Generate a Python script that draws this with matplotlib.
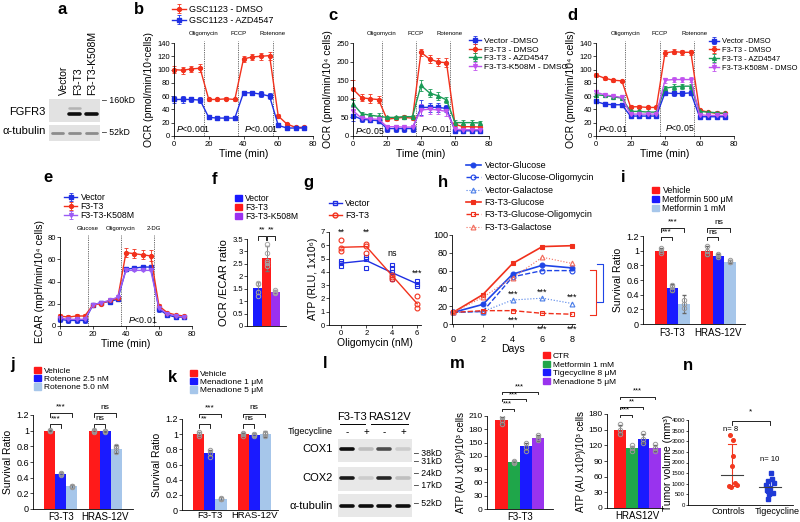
import matplotlib
matplotlib.use('Agg')
import matplotlib.pyplot as plt
from matplotlib.patches import Patch
from matplotlib.lines import Line2D
import numpy as np

plt.rcParams['font.family'] = ['Liberation Sans', 'DejaVu Sans']
plt.rcParams['mathtext.fontset'] = 'custom'
plt.rcParams['mathtext.rm'] = 'Liberation Sans'
plt.rcParams['mathtext.it'] = 'Liberation Sans:italic'
plt.rcParams['axes.linewidth'] = 0.6
plt.rcParams['xtick.major.width'] = 0.5
plt.rcParams['ytick.major.width'] = 0.5
plt.rcParams['xtick.major.size'] = 2
plt.rcParams['ytick.major.size'] = 2
plt.rcParams['xtick.major.pad'] = 1.5
plt.rcParams['ytick.major.pad'] = 1
plt.rcParams['xtick.labelsize'] = 5.5
plt.rcParams['ytick.labelsize'] = 5.5
plt.rcParams['axes.labelpad'] = 2

# ---------------- data ----------------
t_min = [0, 5, 10, 15, 20, 25, 30, 35, 40, 45, 50, 55, 60, 65, 70, 75]
inject_t = [17, 37, 57]

# b
b_dmso = [100, 99, 101, 102, 55, 55, 56, 55, 116, 119, 120, 121, 30, 18, 13, 13]
b_dmso_err = [5, 5, 4, 6, 2, 2, 2, 2, 4, 5, 5, 6, 3, 2, 2, 2]
b_azd = [55, 55, 55, 54, 28, 27, 27, 27, 65, 65, 63, 60, 16, 12, 12, 12]
b_azd_err = [5, 5, 4, 5, 3, 2, 2, 2, 3, 3, 4, 5, 3, 2, 2, 2]

# c
c_vec = [55, 45, 43, 41, 20, 20, 20, 20, 77, 77, 77, 74, 14, 14, 14, 14]
c_vec_err = [15, 8, 6, 6, 10, 10, 8, 8, 20, 12, 12, 10, 5, 5, 5, 5]
c_f3 = [126, 103, 100, 98, 45, 48, 50, 48, 225, 207, 199, 197, 31, 25, 25, 24]
c_f3_err = [25, 10, 12, 10, 5, 4, 5, 5, 10, 10, 12, 12, 6, 6, 6, 6]
c_azd = [87, 60, 56, 53, 50, 50, 52, 52, 136, 116, 108, 97, 36, 36, 36, 35]
c_azd_err = [10, 5, 5, 8, 4, 4, 4, 4, 15, 10, 10, 8, 8, 8, 8, 6]
c_k508 = [68, 48, 46, 45, 25, 25, 24, 24, 70, 72, 70, 66, 18, 17, 17, 17]
c_k508_err = [10, 6, 6, 6, 5, 5, 5, 5, 15, 12, 12, 12, 5, 5, 5, 5]

# d
d_vec = [52, 48, 47, 47, 30, 30, 30, 30, 65, 64, 64, 65, 29, 29, 29, 29]
d_f3 = [92, 87, 84, 83, 44, 44, 43, 43, 125, 127, 126, 126, 39, 36, 34, 34]
d_azd = [62, 61, 59, 57, 37, 37, 36, 36, 72, 74, 75, 75, 37, 36, 35, 34]
d_k508 = [66, 62, 60, 58, 33, 33, 33, 33, 84, 85, 85, 85, 32, 31, 31, 31]
d_err = [3, 2, 2, 2, 2, 2, 2, 2, 4, 4, 4, 4, 2, 2, 2, 2]

# e
e_vec = [6, 5, 5, 5, 19, 21, 22, 24, 51, 52, 53, 53, 15, 10, 8, 8]
e_f3 = [9, 8, 9, 9, 19, 20, 23, 25, 66, 65, 64, 63, 18, 12, 10, 9]
e_k508 = [7, 6, 6, 6, 19, 21, 23, 26, 50, 50, 50, 50, 16, 11, 9, 8]
e_f3_err = [2, 2, 2, 2, 1, 1, 1, 1, 4, 4, 4, 5, 2, 1, 1, 1]
e_err = [2, 2, 2, 2, 1, 1, 1, 1, 1, 1, 1, 1, 2, 1, 1, 1]

# f
f_labels = ['Vector', 'F3-T3', 'F3-T3-K508M']
f_mean = [1.52, 2.72, 1.37]
f_err = [0.25, 0.5, 0.08]
f_pts = [[1.2, 1.35, 1.7, 1.75], [2.4, 2.55, 2.6, 2.95, 3.3], [1.33, 1.38, 1.45]]

# g
g_dose = [0, 2, 4, 6]
g_vec = [4.65, 4.85, 3.95, 3.1]
g_f3 = [5.85, 5.9, 3.75, 1.6]
g_vec_pts = [[4.45, 4.7, 4.8], [4.3, 5.0, 5.1], [3.5, 4.0, 4.3, 4.5], [2.9, 3.1, 3.3]]
g_f3_pts = [[5.6, 5.8, 6.4], [5.4, 5.95, 6.1], [3.5, 3.6, 3.8], [1.3, 1.6, 2.2]]
g_marks = ['**', '**', 'ns', '***']
g_mark_y = [7.0, 7.0, 5.4, 3.9]

# h
h_days = [0, 2, 4, 6, 8]
h_vec_glc = [13, 22, 56, 66, 63]
h_vec_glc_oligo = [13, 14, 53, 60, 60]
h_vec_gal = [13, 14, 27, 29, 23]
h_f3_glc = [13, 33, 68, 87, 88]
h_f3_glc_oligo = [13, 15, 15, 12, 11]
h_f3_gal = [13, 30, 52, 75, 68]

# i, j, k
cell_groups = ['F3-T3', 'HRAS-12V']
i_labels = ['Vehicle', 'Metformin 500 \u03bcM', 'Metformin 1 mM']
i_mean = [[1.0, 0.49, 0.27], [1.0, 0.93, 0.85]]
i_err = [[0.03, 0.05, 0.12], [0.07, 0.03, 0.02]]
i_pts = [[[0.97, 1.0, 1.03], [0.47, 0.5, 0.53], [0.22, 0.27, 0.33]],
         [[0.95, 1.0, 1.06], [0.92, 0.94, 0.95], [0.84, 0.85, 0.87]]]
j_labels = ['Vehicle', 'Rotenone 2.5 nM', 'Rotenone 5.0 nM']
j_mean = [[1.0, 0.45, 0.29], [1.0, 0.99, 0.77]]
j_err = [[0.01, 0.02, 0.02], [0.02, 0.01, 0.05]]
j_pts = [[[1.0, 1.0, 1.01], [0.44, 0.45, 0.46], [0.28, 0.29, 0.3]],
         [[0.98, 1.0, 1.01], [0.98, 0.99, 1.0], [0.73, 0.78, 0.81]]]
k_labels = ['Vehicle', 'Menadione 1 \u03bcM', 'Menadione 5 \u03bcM']
k_mean = [[1.0, 0.75, 0.15], [1.0, 0.99, 1.0]]
k_err = [[0.03, 0.04, 0.02], [0.02, 0.03, 0.04]]
k_pts = [[[0.98, 1.0, 1.03], [0.7, 0.75, 0.79], [0.14, 0.15, 0.16]],
         [[0.98, 1.0, 1.01], [0.97, 0.99, 1.0], [0.98, 1.0, 1.02]]]

# m
m_labels = ['CTR', 'Metformin 1 mM', 'Tigecycline 8 \u03bcM', 'Menadione 5 \u03bcM']
m_f3 = [200, 106, 142, 160]
m_f3_err = [8, 3, 8, 6]
m_f3_pts = [[192, 200, 208], [104, 106, 108], [132, 140, 150], [155, 160, 166]]
m_ras = [150, 115, 133, 115]
m_ras_err = [8, 4, 8, 5]
m_ras_pts = [[142, 150, 160], [110, 115, 120], [125, 133, 143], [110, 115, 122]]

# n
n_groups = ['Controls', 'Tigecycline']
n_ctrl = [3300, 3050, 2300, 1850, 1050, 920, 880, 850]
n_tig = [1500, 1230, 1150, 1030, 920, 800, 690, 570, 540, 280]
n_center = [1430, 850]
n_lo = [900, 570]
n_hi = [2880, 1200]

# blots
a_lanes = ['Vector', 'F3-T3', 'F3-T3-K508M']
a_fgfr3 = [0, 0.95, 0.95]
a_fgfr3_upper = [0, 0.3, 0]
a_tub = [0.45, 0.45, 0.45]
l_cox1 = [0.95, 0.25, 0.7, 0.2]
l_cox2 = [0.9, 0.2, 0.85, 0.25]
l_tub = [0.95, 0.95, 0.95, 0.95]
l_treat = ['-', '+', '-', '+']

RED = '#f2311c'
BLUE = '#1f2fe3'
GREEN = '#1a9b56'
PURPLE = '#c153ef'
BAR_RED = '#ff1a1a'
BAR_BLUE = '#1a1aff'
BAR_LB = '#a6c6ea'

W, H = 800, 522
fig = plt.figure(figsize=(W / 100, H / 100), dpi=100)


def px_axes(x0, y0, x1, y1):
    return fig.add_axes([x0 / W, 1 - y1 / H, (x1 - x0) / W, (y1 - y0) / H])


def ftext(x, y, s, **kw):
    fig.text(x / W, 1 - y / H, s, **kw)


def fline(x0, x1, y):
    fig.add_artist(Line2D([x0 / W, x1 / W], [1 - y / H] * 2, transform=fig.transFigure, lw=0.7, color='k'))


def clean(ax):
    ax.spines['top'].set_visible(False)
    ax.spines['right'].set_visible(False)


def legend_px(ax, handles, labels, x, y, fs, spacing, hl=1.6, **kw):
    ax.legend(handles, labels, loc='upper left', bbox_to_anchor=(x / W, 1 - y / H),
              bbox_transform=fig.transFigure, frameon=False, fontsize=fs, borderpad=0,
              borderaxespad=0, labelspacing=spacing, handlelength=hl, handletextpad=0.4, **kw)


def bracket(ax, x0, x1, y, tick, label, ty, fs=6):
    ax.plot([x0, x0, x1, x1], [y - tick, y, y, y - tick], color='k', lw=0.6, clip_on=False)
    ax.text((x0 + x1) / 2, ty, label, ha='center', va='center', fontsize=fs, clip_on=False)


def seahorse(ax, series, ymax, ystep, names, ylabel, ptexts):
    handles = []
    for vals, errs, color, marker in series:
        h = ax.errorbar(t_min, vals, yerr=errs, color=color, marker=marker, ms=2.8, lw=1,
                        elinewidth=0.6, capsize=1.3, capthick=0.6, clip_on=False)
        handles.append(h)
    for tx, name in zip(inject_t, names):
        ax.axvline(tx, ymax=1.02, color='0.35', ls=(0, (1.5, 1.2)), lw=0.6, clip_on=False)
        ax.text(tx, 1.1, name, fontsize=4.3, ha='center', va='center', transform=ax.get_xaxis_transform())
    for tx, ty, s in ptexts:
        ax.text(tx, ty, s, fontsize=6.3, ha='left', va='center')
    ax.set_xlim(0, 80)
    ax.set_ylim(0, ymax)
    ax.set_xticks([0, 20, 40, 60, 80])
    ax.set_yticks(np.arange(0, ymax + 1, ystep))
    ax.set_xlabel('Time (min)', fontsize=7.5, labelpad=1)
    ax.set_ylabel(ylabel, fontsize=7.5)
    clean(ax)
    return handles


def grouped(ax, means, errs, pts, colors, width, spacing=1.0):
    for g, (gm, ge, gp) in enumerate(zip(means, errs, pts)):
        n = len(gm)
        for b, (m, e, p) in enumerate(zip(gm, ge, gp)):
            x = g * spacing + (b - (n - 1) / 2) * width
            ax.bar(x, m, width=width, color=colors[b], zorder=1)
            ax.errorbar(x, m, yerr=e, fmt='none', ecolor='0.4', elinewidth=0.6, capsize=1.4, zorder=2)
            ax.plot([x] * len(p), p, 'o', mfc='none', mec='0.6', ms=3.2, mew=0.7, zorder=3, clip_on=False)


def bar_pos(g, b, n, width):
    return g + (b - (n - 1) / 2) * width


def blot(x0, y0, x1, y1, values, band_y, lw, bg='#e2e2e2'):
    ax = px_axes(x0, y0, x1, y1)
    ax.set_facecolor(bg)
    ax.set_xlim(-0.5, len(values) - 0.5)
    ax.set_ylim(0, 1)
    for i, v in enumerate(values):
        if v > 0:
            ax.plot([i - 0.32, i + 0.32], [band_y, band_y], color=str(1 - v), lw=lw, solid_capstyle='round')
    ax.set_xticks([])
    ax.set_yticks([])
    for s in ax.spines.values():
        s.set_visible(False)
    return ax


# ---------------- a ----------------
ax = blot(49, 99, 100, 122, a_fgfr3, 0.35, 2.6)
for i, v in enumerate(a_fgfr3_upper):
    if v > 0:
        ax.plot([i - 0.3, i + 0.3], [0.62, 0.62], color=str(1 - v), lw=1.8, solid_capstyle='round')
blot(49, 125, 100, 141, a_tub, 0.5, 2.0)
for xl, lab in zip([64, 78, 92], a_lanes):
    ftext(xl, 95, lab, rotation=90, ha='center', va='bottom', fontsize=7.5)
ftext(46, 112, 'FGFR3', ha='right', va='center', fontsize=8)
ftext(46, 131, '\u03b1-tubulin', ha='right', va='center', fontsize=8)
ftext(102, 100, '\u2013 160kD', ha='left', va='center', fontsize=6.3)
ftext(102, 133, '\u2013 52kD', ha='left', va='center', fontsize=6.3)

# ---------------- b ----------------
ax = px_axes(174, 43, 313, 136)
hs = seahorse(ax, [(b_dmso, b_dmso_err, RED, 'o'), (b_azd, b_azd_err, BLUE, 's')], 140, 20,
              ['Oligomycin', 'FCCP', 'Rotenone'], 'OCR (pmol/min/10\u2074cells)',
              [(1, 10, '$\\it{P}$<0.001'), (40, 10, '$\\it{P}$<0.001')])
legend_px(ax, hs, ['GSC1123 - DMSO', 'GSC1123 - AZD4547'], 172, 5, 6.5, 0.2, hl=1.5)

# ---------------- c ----------------
ax = px_axes(353, 43, 489, 136)
hs = seahorse(ax, [(c_vec, c_vec_err, BLUE, 's'), (c_f3, c_f3_err, RED, 'o'),
                   (c_azd, c_azd_err, GREEN, '^'), (c_k508, c_k508_err, PURPLE, 'v')], 250, 50,
              ['Oligomycin', 'FCCP', 'Rotenone'], 'OCR (pmol/min/10\u2074 cells)',
              [(1, 14, '$\\it{P}$<0.05'), (40, 18, '$\\it{P}$<0.01')])
legend_px(ax, hs, ['Vector -DMSO', 'F3-T3 - DMSO', 'F3-T3 - AZD4547', 'F3-T3-K508M - DMSO'],
          469, 37, 6, 0.1, hl=1.4)

# ---------------- d ----------------
ax = px_axes(596, 43, 734, 136)
hs = seahorse(ax, [(d_vec, d_err, BLUE, 's'), (d_f3, d_err, RED, 'o'),
                   (d_azd, d_err, GREEN, '^'), (d_k508, d_err, PURPLE, 'v')], 140, 20,
              ['Oligomycin', 'FCCP', 'Rotenone'], 'OCR (pmol/min/10\u2074 cells)',
              [(1, 10, '$\\it{P}$<0.01'), (40, 12, '$\\it{P}$<0.05')])
legend_px(ax, hs, ['Vector -DMSO', 'F3-T3 - DMSO', 'F3-T3 - AZD4547', 'F3-T3-K508M - DMSO'],
          709, 38, 5.4, 0.2, hl=1.3)

# ---------------- e ----------------
ax = px_axes(60, 237, 192, 326)
hs = seahorse(ax, [(e_vec, e_err, BLUE, 's'), (e_f3, e_f3_err, RED, 'o'), (e_k508, e_err, '#9b5cf5', 'v')],
              80, 20, ['Glucose', 'Oligomycin', '2-DG'], 'ECAR (mpH/min/10\u2074 cells)',
              [(41, 5, '$\\it{P}$<0.01')])
legend_px(ax, hs, ['Vector', 'F3-T3', 'F3-T3-K508M'], 64, 193, 6.3, 0.0, hl=1.5)

# ---------------- f ----------------
ax = px_axes(247, 239, 286, 326)
f_colors = [BAR_BLUE, BAR_RED, '#9b30f0']
for i, (m, e, p) in enumerate(zip(f_mean, f_err, f_pts)):
    ax.bar(i, m, width=1.0, color=f_colors[i])
    ax.errorbar(i, m, yerr=e, fmt='none', ecolor='0.45', elinewidth=0.6, capsize=1.4)
    ax.plot([i] * len(p), p, 'o', mfc='none', mec='0.65', ms=3.2, mew=0.7)
ax.set_xlim(-1.17, 3.17)
ax.set_ylim(0, 3.5)
ax.set_yticks(np.arange(0, 3.51, 0.5))
ax.set_yticklabels(['0', '0.5', '1', '1.5', '2', '2.5', '3', '3.5'])
ax.set_xticks([])
ax.set_ylabel('OCR /ECAR ratio', fontsize=8)
clean(ax)
bracket(ax, 0, 0.95, 3.62, 0.15, '**', 3.85)
bracket(ax, 1.05, 2, 3.62, 0.15, '**', 3.85)
legend_px(ax, [Patch(color=c) for c in f_colors], f_labels, 235, 194, 6.2, 0.0, hl=0.8, handleheight=0.8)

# ---------------- g ----------------
ax = px_axes(329, 232, 421, 325)
ax.plot(g_dose, g_vec, color=BLUE, lw=1)
ax.plot(g_dose, g_f3, color=RED, lw=1)
for d, pv, pf in zip(g_dose, g_vec_pts, g_f3_pts):
    ax.plot([d] * len(pv), pv, 's', mfc='none', mec=BLUE, ms=3.5, mew=0.8)
    ax.plot([d] * len(pf), pf, 'o', mfc='none', mec=RED, ms=3.5, mew=0.8)
for d, s, y in zip(g_dose, g_marks, g_mark_y):
    ax.text(d, y, s, ha='center', va='center', fontsize=6.5, clip_on=False)
ax.set_xlim(-0.94, 6.3)
ax.set_ylim(0, 7)
ax.set_xticks(g_dose)
ax.set_yticks(range(0, 8))
ax.set_xlabel('Oligomycin (nM)', fontsize=7.5, labelpad=1)
ax.set_ylabel('ATP (RLU, 1x10\u2076)', fontsize=7.5)
clean(ax)
g_handles = [Line2D([], [], color=BLUE, marker='s', mfc='none', ms=3.5, lw=1),
             Line2D([], [], color=RED, marker='o', mfc='none', ms=3.5, lw=1)]
legend_px(ax, g_handles, ['Vector', 'F3-T3'], 329, 199, 6.5, 0.3, hl=1.4)

# ---------------- h ----------------
ax = px_axes(452, 235, 575, 324)
HB = '#1f45e6'
HR = '#f0301c'
h_series = [
    (h_vec_glc, HB, 'o', 'full', '-', 1.2, 'Vector-Glucose'),
    (h_vec_glc_oligo, HB, 'o', 'none', '--', 1.0, 'Vector-Glucose-Oligomycin'),
    (h_vec_gal, '#4a7de8', '^', 'none', ':', 0.8, 'Vector-Galactose'),
    (h_f3_glc, HR, 's', 'full', '-', 1.2, 'F3-T3-Glucose'),
    (h_f3_glc_oligo, HR, 's', 'none', '--', 1.0, 'F3-T3-Glucose-Oligomycin'),
    (h_f3_gal, '#f26a5a', '^', 'none', ':', 0.8, 'F3-T3-Galactose'),
]
hh = []
for vals, c, mk, fill, ls, lw, lab in h_series:
    mfc = c if fill == 'full' else 'none'
    line, = ax.plot(h_days, vals, color=c, marker=mk, mfc=mfc, ms=3.5, mew=0.8, ls=ls, lw=lw, clip_on=False)
    hh.append(line)
for d, v in zip(h_days[2:], h_vec_gal[2:]):
    ax.text(d, v + 7, '***', ha='center', va='center', fontsize=6.5)
for d, y in zip(h_days[2:], [4, -6, -6]):
    ax.text(d, y, '***', ha='center', va='center', fontsize=6.5, clip_on=False)
ax.plot([9.7, 10.1, 10.1, 9.7], [67, 67, 25, 25], color=HB, lw=0.8, clip_on=False)
ax.plot([9.2, 9.6, 9.6, 9.2], [61, 61, 10, 10], color=HR, lw=0.8, clip_on=False)
ax.set_xlim(-0.07, 8.19)
ax.set_ylim(0, 100)
ax.set_xticks(h_days)
ax.set_yticks(range(0, 101, 20))
ax.tick_params(labelsize=6.5)
ax.tick_params(axis='x', pad=6)
ax.set_xlabel('Days', fontsize=7.5, labelpad=0)
clean(ax)
legend_px(ax, hh, [s[-1] for s in h_series], 466, 161, 6.5, 0.37, hl=1.65)

# ---------------- i ----------------
ax = px_axes(643, 236, 745, 324)
i_colors = [BAR_RED, BAR_BLUE, BAR_LB]
grouped(ax, i_mean, i_err, i_pts, i_colors, 0.25)
ax.set_xlim(-0.64, 1.58)
ax.set_ylim(0, 1.2)
ax.set_yticks(np.arange(0, 1.21, 0.2))
ax.set_yticklabels(['0', '0.2', '0.4', '0.6', '0.8', '1', '1.2'])
ax.set_xticks([0, 1])
ax.set_xticklabels(cell_groups, fontsize=7)
ax.tick_params(axis='x', length=0, labelsize=7, pad=3)
ax.tick_params(axis='y', labelsize=6.5)
ax.set_ylabel('Survival Ratio', fontsize=7.5)
clean(ax)
for g, marks in enumerate([('***', '***'), ('ns', 'ns')]):
    bracket(ax, bar_pos(g, 0, 3, 0.25), bar_pos(g, 2, 3, 0.25), 1.31, 0.05, marks[0], 1.39)
    bracket(ax, bar_pos(g, 0, 3, 0.25), bar_pos(g, 1, 3, 0.25), 1.19, 0.05, marks[1], 1.25)
legend_px(ax, [Patch(color=c) for c in i_colors], i_labels, 652, 186, 6.3, 0.0, hl=0.8, handleheight=0.8)

# ---------------- j ----------------
ax = px_axes(33, 415, 133, 509)
grouped(ax, j_mean, j_err, j_pts, i_colors, 0.25)
ax.set_xlim(-0.636, 1.636)
ax.set_ylim(0, 1.2)
ax.set_yticks(np.arange(0, 1.21, 0.2))
ax.set_yticklabels(['0', '0.2', '0.4', '0.6', '0.8', '1', '1.2'])
ax.set_xticks([0, 1])
ax.set_xticklabels(cell_groups)
ax.tick_params(axis='x', length=0, labelsize=7, pad=2)
ax.tick_params(axis='y', labelsize=6.5)
ax.set_ylabel('Survival Ratio', fontsize=7.5)
clean(ax)
for g, marks in enumerate([('***', '***'), ('ns', 'ns')]):
    bracket(ax, bar_pos(g, 0, 3, 0.25), bar_pos(g, 2, 3, 0.25), 1.22, 0.05, marks[0], 1.3)
    bracket(ax, bar_pos(g, 0, 3, 0.25), bar_pos(g, 1, 3, 0.25), 1.08, 0.05, marks[1], 1.15)
legend_px(ax, [Patch(color=c) for c in i_colors], j_labels, 34, 367, 6.0, 0.0, hl=0.8, handleheight=0.8)

# ---------------- k ----------------
ax = px_axes(182, 419, 278, 510)
grouped(ax, k_mean, k_err, k_pts, i_colors, 0.25)
ax.set_xlim(-0.636, 1.545)
ax.set_ylim(0, 1.2)
ax.set_yticks(np.arange(0, 1.21, 0.2))
ax.set_yticklabels(['0', '0.2', '0.4', '0.6', '0.8', '1', '1.2'])
ax.set_xticks([0, 1])
ax.set_xticklabels(cell_groups)
ax.tick_params(axis='x', length=0, labelsize=6.8, pad=1)
ax.tick_params(axis='y', labelsize=6.5)
ax.set_ylabel('Survival Ratio', fontsize=7.5)
clean(ax)
for g, marks in enumerate([('***', '**'), ('ns', 'ns')]):
    bracket(ax, bar_pos(g, 0, 3, 0.25), bar_pos(g, 2, 3, 0.25), 1.27, 0.05, marks[0], 1.35)
    bracket(ax, bar_pos(g, 0, 3, 0.25), bar_pos(g, 1, 3, 0.25), 1.13, 0.05, marks[1], 1.2)
legend_px(ax, [Patch(color=c) for c in i_colors], k_labels, 190, 370, 6.0, 0.0, hl=0.8, handleheight=0.8)

# ---------------- l ----------------
blot(338, 439, 412, 462, l_cox1, 0.56, 2.6, bg='#e8e8e8')
blot(338, 467, 412, 491, l_cox2, 0.54, 2.6, bg='#e8e8e8')
blot(338, 494, 412, 517, l_tub, 0.5, 2.6, bg='#e8e8e8')
for xl, s in zip([347, 366, 384, 403], l_treat):
    ftext(xl, 432, s, ha='center', va='center', fontsize=7)
ftext(333, 432, 'Tigecycline', ha='right', va='center', fontsize=6.5)
ftext(352, 417, 'F3-T3', ha='center', va='center', fontsize=8)
ftext(389, 417, 'RAS12V', ha='center', va='center', fontsize=8)
fline(340, 365, 424)
fline(371, 408, 424)
ftext(333, 449, 'COX1', ha='right', va='center', fontsize=8)
ftext(333, 478, 'COX2', ha='right', va='center', fontsize=8)
ftext(333, 506, '\u03b1-tubulin', ha='right', va='center', fontsize=8)
for y, s in zip([453, 462, 473, 485, 504], ['38kD', '31kD', '24kD', '17kD', '52kD']):
    ftext(414, y, '\u2013 ' + s, ha='left', va='center', fontsize=6.3)

# ---------------- m ----------------
m_colors = [BAR_RED, '#1fa64a', BAR_BLUE, '#9933ee']
for box, vals, errs, pts, ymax, xl, name, brk in [
        ((487, 416, 553, 509), m_f3, m_f3_err, m_f3_pts, 210, (-1.19, 4.22), 'F3-T3',
         [(3, 265, 276, '***'), (2, 248, 258, '***'), (1, 226, 238, '***')]),
        ((607, 414, 663, 508), m_ras, m_ras_err, m_ras_pts, 180, (-1.11, 3.68), 'HRAS12V',
         [(3, 213, 224, '***'), (2, 194, 203, '**'), (1, 178, 187, '***')])]:
    ax = px_axes(*box)
    for i, (v, e, p) in enumerate(zip(vals, errs, pts)):
        ax.bar(i, v, width=1.0, color=m_colors[i])
        ax.errorbar(i, v, yerr=e, fmt='none', ecolor='0.4', elinewidth=0.6, capsize=1.4)
        ax.plot([i] * len(p), p, 'o', mfc='none', mec='0.6', ms=3.2, mew=0.7)
    ax.set_xlim(*xl)
    ax.set_ylim(0, ymax)
    ax.set_yticks(range(0, ymax + 1, 30))
    ax.set_xticks([1.5])
    ax.set_xticklabels([name])
    ax.tick_params(axis='x', length=0, labelsize=7, pad=2)
    ax.tick_params(axis='y', labelsize=6)
    ax.set_ylabel('ATP (AU x10\u00b3)/10\u00b3 cells', fontsize=7)
    clean(ax)
    for b, yb, yt, s in brk:
        bracket(ax, 0, b, yb, ymax * 0.025, s, yt, fs=5.5)
m_ax = ax
legend_px(m_ax, [Patch(color=c) for c in m_colors], m_labels, 543, 352, 6.0, 0.05, hl=0.8, handleheight=0.8)

# ---------------- n ----------------
ax = px_axes(688, 420, 793, 505)
n_ctrl_dx = [-0.05, 0.02, 0.03, 0.0, 0.08, 0.12, -0.08, -0.02]
n_tig_dx = [0.02, 0.05, -0.05, 0.1, -0.1, 0.0, -0.08, 0.08, -0.03, -0.04]
ax.plot(np.array(n_ctrl_dx) + 1, n_ctrl, 'o', color='#f2381f', ms=2.6)
ax.plot(np.array(n_tig_dx) + 2, n_tig, 's', color='#1f3ad6', ms=2.6)
for pos, c, lo, hi, col in zip([1, 2], n_center, n_lo, n_hi, ['#f2381f', '#1f3ad6']):
    ax.plot([pos, pos], [lo, hi], color=col, lw=0.8)
    ax.plot([pos - 0.1, pos + 0.1], [lo, lo], color=col, lw=0.8)
    ax.plot([pos - 0.1, pos + 0.1], [hi, hi], color=col, lw=0.8)
    ax.plot([pos - 0.3, pos + 0.3], [c, c], color='0.25', lw=0.8)
ax.text(0.95, 3540, 'n= 8', ha='center', va='center', fontsize=5.5)
ax.text(2.0, 2130, 'n= 10', ha='center', va='center', fontsize=5.5)
bracket(ax, 1, 2, 3950, 180, '*', 4380)
ax.set_xlim(-0.157, 2.605)
ax.set_ylim(0, 4000)
ax.set_yticks(range(0, 4001, 500))
ax.set_xticks([])
for xpos, lab in zip([0.9, 2.18], n_groups):
    ax.text(xpos, -90, lab, ha='center', va='top', fontsize=6.5, clip_on=False)
ax.tick_params(axis='y', labelsize=4.3, length=1.5, pad=0.5)
ax.set_ylabel('Tumor volume (mm\u00b3)', fontsize=7.5)
ax.yaxis.set_label_coords(-0.14, 0.5)
clean(ax)

# panel letters
for x, y, s in [(62, 9, 'a'), (139, 9, 'b'), (333, 15, 'c'), (572, 16, 'd'), (48, 178, 'e'),
                (215, 180, 'f'), (308, 182, 'g'), (443, 182, 'h'), (623, 178, 'i'),
                (12, 365, 'j'), (172, 377, 'k'), (325, 363, 'l'), (457, 363, 'm'), (688, 365, 'n')]:
    ftext(x, y, s, ha='center', va='center', fontsize=12, fontweight='bold')

plt.savefig('out.png', dpi=100)
